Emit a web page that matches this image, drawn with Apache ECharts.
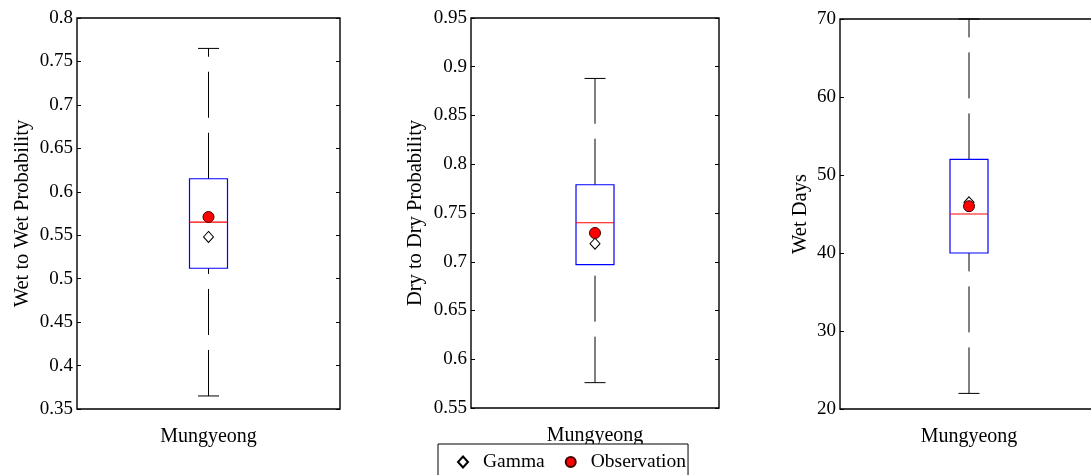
<!DOCTYPE html>
<html><head><meta charset="utf-8">
<script src="https://cdn.jsdelivr.net/npm/echarts@6/dist/echarts.min.js"></script>
<style>html,body{margin:0;padding:0;background:#fff}#c{width:1091px;height:475px}</style>
</head><body><div id="c"></div>
<script>
const categories = ['Mungyeong'];
// box statistics: [lower whisker, Q1, median, Q3, upper whisker]
const wetToWetBox = [0.365, 0.512, 0.565, 0.615, 0.765];
const dryToDryBox = [0.576, 0.697, 0.740, 0.779, 0.888];
const wetDaysBox = [22, 40, 45, 52, 70];
const gammaValues = [0.548, 0.7185, 46.5];
const observationValues = [0.571, 0.7295, 46.0];
const yAxisNames = ['Wet to Wet Probability', 'Dry to Dry Probability', 'Wet Days'];
const yMins = [0.35, 0.55, 20];
const yMaxs = [0.8, 0.95, 70];
const yIntervals = [0.05, 0.05, 10];
const legendLabels = ['Gamma', 'Observation'];

const boxes = [wetToWetBox, dryToDryBox, wetDaysBox];
const FONT = 'Liberation Serif';
const FS = 19;
const FS_TEXT = 20;
const FS_LEGEND = 19.5;
const FS_TITLE = 20.5;
const grids = [
  {left: 77, top: 18, width: 263, height: 391},
  {left: 471, top: 18, width: 248, height: 390},
  {left: 840, top: 19, width: 258, height: 390}
];
const nameGaps = [44, 45, 28.5];
const BOX_HALF = 19, CAP_HALF = 10.5;

function renderBox(params, api) {
  const c = api.value(0);
  const pLo = api.coord([c, api.value(1)]);
  const pQ1 = api.coord([c, api.value(2)]);
  const pMed = api.coord([c, api.value(3)]);
  const pQ3 = api.coord([c, api.value(4)]);
  const pHi = api.coord([c, api.value(5)]);
  const x = pMed[0];
  const dash = [46, 15];
  const wStyle = {stroke: '#000', lineWidth: 1, lineDash: dash, fill: null};
  const cStyle = {stroke: '#000', lineWidth: 1, fill: null};
  return {type: 'group', children: [
    {type: 'line', shape: {x1: x, y1: pLo[1], x2: x, y2: pQ1[1]}, style: wStyle},
    {type: 'line', shape: {x1: x, y1: pQ3[1], x2: x, y2: pHi[1]}, style: wStyle},
    {type: 'line', shape: {x1: x - CAP_HALF, y1: pLo[1], x2: x + CAP_HALF, y2: pLo[1]}, style: cStyle},
    {type: 'line', shape: {x1: x - CAP_HALF, y1: pHi[1], x2: x + CAP_HALF, y2: pHi[1]}, style: cStyle},
    {type: 'rect', shape: {x: x - BOX_HALF, y: pQ3[1], width: 2 * BOX_HALF, height: pQ1[1] - pQ3[1]},
      style: {stroke: '#0000ff', lineWidth: 1.2, fill: 'none'}},
    {type: 'line', shape: {x1: x - BOX_HALF, y1: pMed[1], x2: x + BOX_HALF, y2: pMed[1]},
      style: {stroke: '#ff0000', lineWidth: 1.2, fill: null}}
  ]};
}

const option = {
  animation: false,
  backgroundColor: '#fff',
  grid: grids.map(g => Object.assign({show: true, borderColor: '#000', borderWidth: 1.4,
    backgroundColor: 'transparent', outerBoundsMode: 'none', containLabel: false}, g)),
  xAxis: grids.map((g, i) => ({
    type: 'category', gridIndex: i, data: categories, boundaryGap: true,
    axisLine: {show: false}, axisTick: {show: false}, splitLine: {show: false},
    axisLabel: {margin: 18, fontFamily: FONT, fontSize: FS_TEXT, color: '#000'}
  })),
  yAxis: [],
  legend: {
    left: 438, top: 444, orient: 'horizontal',
    padding: [8, 2, 12, 19],
    borderColor: '#000', borderWidth: 1, borderRadius: 0, backgroundColor: '#fff',
    itemWidth: 10, itemHeight: 11, itemGap: 20, selectedMode: false,
    textStyle: {fontFamily: FONT, fontSize: FS_LEGEND, color: '#000', padding: [0, 0, 0, 10]},
    data: [{name: legendLabels[0], icon: 'diamond'}, {name: legendLabels[1], icon: 'circle'}]
  },
  series: []
};

grids.forEach((g, i) => {
  option.yAxis.push({
    type: 'value', gridIndex: i, position: 'left', min: yMins[i], max: yMaxs[i], interval: yIntervals[i],
    name: yAxisNames[i], nameLocation: 'middle', nameGap: nameGaps[i], nameRotate: 90,
    nameTextStyle: {fontFamily: FONT, fontSize: FS_TITLE, color: '#000'},
    axisLine: {show: false}, splitLine: {show: false},
    axisTick: {show: true, inside: true, length: 4, lineStyle: {color: '#000'}},
    axisLabel: {margin: 4, fontFamily: FONT, fontSize: FS, color: '#000'}
  });
  option.yAxis.push({
    type: 'value', gridIndex: i, position: 'right', min: yMins[i], max: yMaxs[i], interval: yIntervals[i],
    axisLine: {show: false}, splitLine: {show: false},
    axisTick: {show: true, inside: true, length: 4, lineStyle: {color: '#000'}},
    axisLabel: {show: false}
  });
  option.series.push({
    type: 'custom', xAxisIndex: i, yAxisIndex: 2 * i, renderItem: renderBox, z: 2, clip: false,
    encode: {x: 0, y: [1, 2, 3, 4, 5]},
    data: [[0].concat(boxes[i])]
  });
  option.series.push({
    type: 'scatter', name: legendLabels[0], xAxisIndex: i, yAxisIndex: 2 * i, z: 3,
    symbol: 'diamond', symbolSize: [10, 11],
    itemStyle: {color: '#fff', borderColor: '#000', borderWidth: 1, opacity: 1},
    data: [[0, gammaValues[i]]]
  });
  option.series.push({
    type: 'scatter', name: legendLabels[1], xAxisIndex: i, yAxisIndex: 2 * i, z: 4,
    symbol: 'circle', symbolSize: 11,
    itemStyle: {color: '#ff0000', borderColor: '#400', borderWidth: 1, opacity: 1},
    data: [[0, observationValues[i]]]
  });
});

const chart = echarts.init(document.getElementById('c'), null, {renderer: 'canvas'});
chart.setOption(option);
</script>
</body></html>
